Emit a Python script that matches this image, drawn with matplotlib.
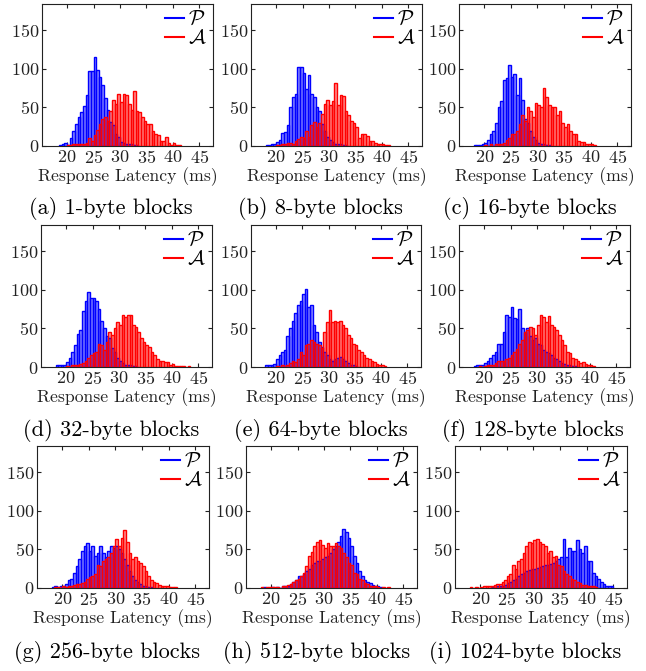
import numpy as np
import matplotlib
matplotlib.use("Agg")
import matplotlib.pyplot as plt
from matplotlib.lines import Line2D

plt.rcParams["font.family"] = "serif"
plt.rcParams["font.serif"] = ["cmr10", "DejaVu Serif"]
plt.rcParams["mathtext.fontset"] = "cm"
plt.rcParams["axes.formatter.use_mathtext"] = True

# histogram counts, 0.5 ms bins; each list starts at its *_start latency (ms)
bin_width = 0.5

p_1_start = 18.5
p_1 = [1, 2, 4, 1, 10, 19, 29, 38, 44, 52, 66, 97, 97, 115, 99, 90, 79, 62, 47, 31,
       27, 15, 12, 5, 4, 3, 2, 2, 1, 1]
a_1_start = 20.0
a_1 = [1, 1, 2, 2, 3, 3, 3, 4, 10, 7, 14, 21, 29, 35, 38, 33, 45, 59, 54, 67,
       57, 68, 66, 55, 47, 71, 46, 44, 38, 33, 29, 29, 20, 16, 14, 6, 6, 12, 4, 1,
       4, 1, 1]

p_8_start = 18.0
p_8 = [1, 1, 2, 3, 5, 8, 17, 18, 27, 50, 63, 67, 103, 102, 94, 74, 92, 68, 63, 50,
       45, 28, 20, 12, 8, 5, 3, 2, 2, 1, 1]
a_8_start = 20.0
a_8 = [1, 1, 2, 3, 4, 4, 3, 6, 9, 12, 10, 20, 12, 27, 31, 25, 30, 42, 55, 60,
       53, 58, 82, 53, 66, 65, 45, 40, 32, 30, 25, 11, 15, 15, 13, 7, 6, 4, 3, 2,
       2, 1, 1]

p_16_start = 18.0
p_16 = [1, 1, 1, 2, 4, 8, 15, 20, 30, 50, 58, 85, 88, 105, 90, 93, 66, 88, 60, 35,
        30, 20, 12, 8, 4, 3, 2, 1, 1]
a_16_start = 20.0
a_16 = [1, 0, 2, 0, 2, 3, 2, 4, 8, 10, 15, 15, 20, 28, 40, 33, 50, 45, 38, 56,
        53, 51, 75, 63, 53, 50, 50, 40, 45, 30, 25, 28, 20, 15, 15, 6, 5, 5, 3, 2,
        2, 1]

p_32_start = 18.0
p_32 = [3, 3, 2, 3, 6, 12, 20, 28, 43, 48, 73, 85, 97, 90, 90, 86, 75, 60, 50, 40,
        38, 25, 20, 12, 8, 5, 3, 2, 2, 1, 1]
a_32_start = 20.0
a_32 = [1, 0, 2, 2, 3, 4, 5, 8, 12, 15, 18, 20, 30, 28, 22, 33, 45, 42, 50, 58,
        55, 68, 65, 68, 67, 55, 52, 45, 37, 32, 28, 26, 20, 16, 10, 8, 8, 6, 7, 3,
        4, 1, 1, 1, 1, 0, 1]

p_64_start = 18.0
p_64 = [2, 2, 3, 4, 10, 16, 20, 22, 40, 50, 60, 70, 80, 86, 95, 101, 78, 80, 55, 45,
        33, 26, 20, 15, 10, 8, 10, 12, 13, 11, 8, 5, 3, 2, 1]
a_64_start = 20.0
a_64 = [1, 0, 2, 0, 3, 5, 8, 6, 10, 20, 16, 28, 30, 35, 32, 30, 28, 25, 45, 58,
        74, 58, 59, 58, 59, 55, 50, 42, 38, 30, 28, 22, 20, 15, 12, 10, 8, 6, 4, 2,
        2, 1]

p_128_start = 18.0
p_128 = [1, 2, 2, 3, 5, 8, 12, 16, 20, 30, 30, 45, 68, 65, 78, 64, 62, 75, 50, 45,
         50, 40, 35, 38, 30, 28, 22, 20, 18, 15, 12, 10, 8, 5, 4, 3, 2, 1, 1]
a_128_start = 19.0
a_128 = [1, 0, 1, 2, 2, 3, 5, 8, 8, 8, 10, 12, 15, 20, 23, 30, 35, 45, 48, 52,
         50, 42, 55, 67, 65, 58, 66, 55, 52, 48, 42, 35, 28, 20, 18, 12, 10, 8, 5, 7,
         4, 3, 2, 1]

p_256_start = 18.0
p_256 = [1, 2, 1, 2, 3, 5, 10, 12, 20, 28, 38, 48, 55, 58, 48, 55, 42, 45, 55, 45,
         40, 48, 55, 52, 55, 50, 45, 38, 30, 22, 15, 10, 8, 5, 3, 2, 1, 1]
a_256_start = 18.5
a_256 = [1, 1, 0, 2, 1, 3, 3, 4, 5, 5, 6, 8, 12, 14, 15, 18, 30, 28, 35, 38,
         40, 45, 55, 63, 55, 65, 75, 60, 45, 38, 40, 35, 32, 28, 22, 15, 10, 8, 6, 4,
         3, 2, 2, 1, 1, 1]

p_512_start = 18.5
p_512 = [1, 0, 0, 1, 0, 1, 0, 2, 2, 3, 5, 8, 10, 15, 15, 18, 22, 25, 30, 33,
         35, 35, 38, 40, 42, 45, 50, 55, 60, 68, 76, 72, 65, 55, 42, 32, 22, 16, 11, 8,
         6, 4, 3, 2, 1]
a_512_start = 18.0
a_512 = [1, 0, 1, 1, 1, 1, 1, 0, 2, 3, 4, 5, 8, 10, 12, 15, 20, 28, 42, 47,
         55, 60, 62, 56, 52, 58, 55, 55, 58, 55, 52, 45, 40, 32, 30, 20, 18, 12, 10, 6,
         5, 3, 2, 2, 1, 0, 1, 0, 1]

p_1024_start = 22.0
p_1024 = [1, 0, 2, 2, 3, 4, 6, 8, 10, 12, 15, 18, 20, 22, 23, 24, 25, 26, 27, 28,
          30, 30, 31, 33, 35, 38, 40, 64, 40, 52, 48, 48, 62, 50, 45, 55, 35, 35, 20, 15,
          12, 8, 5, 3, 2, 3]
a_1024_start = 18.0
a_1024 = [1, 0, 1, 0, 1, 2, 3, 2, 2, 4, 5, 5, 8, 10, 15, 18, 30, 25, 35, 38,
          45, 55, 60, 58, 62, 64, 60, 57, 55, 45, 48, 40, 42, 30, 28, 22, 18, 15, 12, 10,
          8, 6, 4, 4, 3, 2, 2, 1]

captions = ["(a) 1-byte blocks", "(b) 8-byte blocks", "(c) 16-byte blocks",
            "(d) 32-byte blocks", "(e) 64-byte blocks", "(f) 128-byte blocks",
            "(g) 256-byte blocks", "(h) 512-byte blocks", "(i) 1024-byte blocks"]
p_series = [(p_1_start, p_1), (p_8_start, p_8), (p_16_start, p_16),
            (p_32_start, p_32), (p_64_start, p_64), (p_128_start, p_128),
            (p_256_start, p_256), (p_512_start, p_512), (p_1024_start, p_1024)]
a_series = [(a_1_start, a_1), (a_8_start, a_8), (a_16_start, a_16),
            (a_32_start, a_32), (a_64_start, a_64), (a_128_start, a_128),
            (a_256_start, a_256), (a_512_start, a_512), (a_1024_start, a_1024)]

W, H = 646, 671
fig = plt.figure(figsize=(W / 100, H / 100), dpi=100)

# axes boxes in pixels: left, right, top, bottom
boxes = [(42, 213, 4, 146), (251, 422, 4, 146), (459, 631, 4, 146),
         (41, 212, 225, 367), (251, 421, 225, 367), (459, 630, 225, 367),
         (37, 209, 446, 588), (246, 417, 446, 588), (455, 627, 446, 588)]
cap_x = [111, 320, 530, 111, 321, 533, 107, 317, 525]
cap_y = [208, 208, 208, 430, 430, 430, 652, 652, 652]

for k in range(9):
    l, r, t, b = boxes[k]
    ax = fig.add_axes([l / W, 1 - b / H, (r - l) / W, (b - t) / H])
    for (start, counts), col in [(p_series[k], "blue"), (a_series[k], "red")]:
        x = start + bin_width * np.arange(len(counts))
        ax.bar(x, counts, width=bin_width, align="edge", color=col, alpha=0.45,
               edgecolor="none", zorder=2)
        ax.bar(x, counts, width=bin_width, align="edge", fill=False,
               edgecolor=col, linewidth=1.0, zorder=3)
    ax.set_xlim(15.25, 47.6)
    ax.set_ylim(0, 184)
    ax.set_xticks([20, 25, 30, 35, 40, 45])
    ax.set_yticks([0, 50, 100, 150])
    ax.tick_params(direction="in", top=True, right=True, labelsize=13,
                   length=3, pad=2, colors="#222222")
    for s in ax.spines.values():
        s.set_color("#222222")
    ax.set_xlabel("Response Latency (ms)", fontsize=12.7, labelpad=1, color="#222222")
    handles = [Line2D([], [], color="blue"), Line2D([], [], color="red")]
    ax.legend(handles, [r"$\mathcal{P}$", r"$\mathcal{A}$"], loc="upper right",
              frameon=False, fontsize=15, handlelength=0.9, handletextpad=0.2,
              labelspacing=0.0, borderaxespad=0.1, borderpad=0.2)
    fig.text(cap_x[k] / W, 1 - cap_y[k] / H, captions[k], ha="center", va="center",
             fontsize=16)

fig.savefig("out.png", dpi=100)
